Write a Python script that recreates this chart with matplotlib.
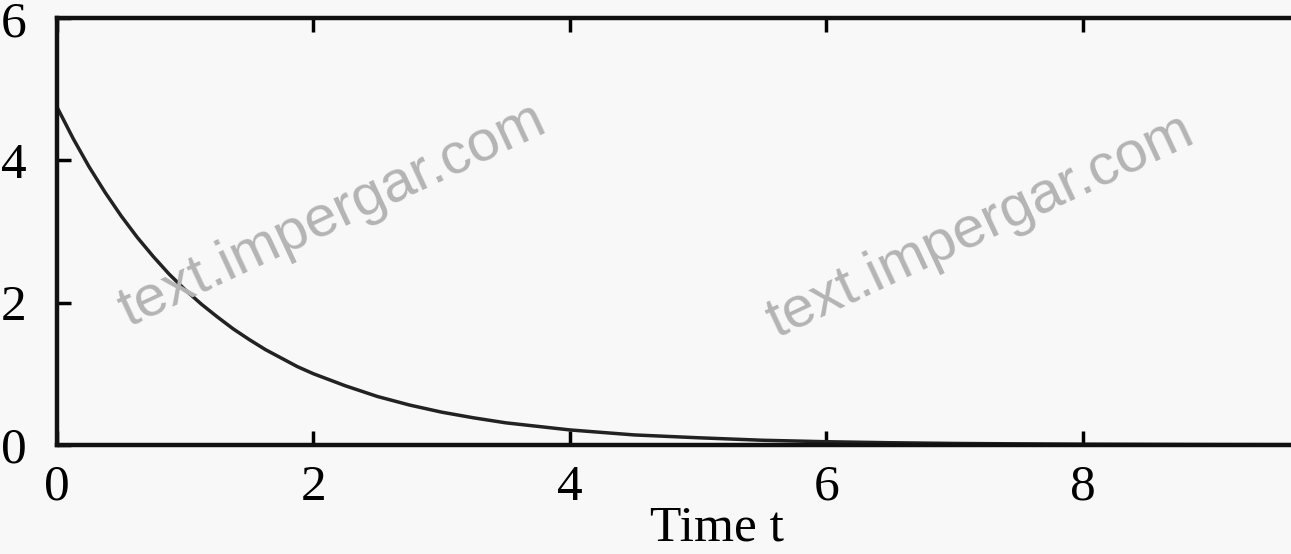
import numpy as np
import matplotlib
matplotlib.use("Agg")
import matplotlib.pyplot as plt

plt.rcParams["font.family"] = ["Liberation Serif", "DejaVu Serif"]

# values
t = [0, 0.125, 0.25, 0.375, 0.5, 0.625, 0.75, 0.875, 1.0, 1.125, 1.25, 1.375,
     1.5, 1.625, 1.75, 1.875, 2.0, 2.25, 2.5, 2.75, 3.0, 3.25, 3.5, 3.75, 4.0,
     4.5, 5.0, 5.5, 6.0, 6.5, 7.0, 7.5, 8.0, 9.0, 10.0]
y = [4.75, 4.31, 3.91, 3.55, 3.22, 2.92, 2.65, 2.40, 2.18, 1.98, 1.80, 1.63,
     1.48, 1.34, 1.22, 1.10, 1.00, 0.83, 0.68, 0.56, 0.46, 0.38, 0.31, 0.26, 0.21,
     0.14, 0.10, 0.065, 0.044, 0.03, 0.02, 0.014, 0.009, 0.004, 0.002]
xticks = [0, 2, 4, 6, 8]
yticks = [0, 2, 4, 6]
watermark = "text.impergar.com"

bg = "#f8f8f8"
fig = plt.figure(figsize=(12.91, 5.54), dpi=100, facecolor=bg)
ax = fig.add_axes([0.0442, 0.197, 0.993, 0.770], facecolor=bg)

ax.plot(t, y, color="#222222", lw=2.5)

ax.set_xlim(0, 10)
ax.set_ylim(0, 6)
ax.set_xticks(xticks)
ax.set_yticks(yticks)
ax.tick_params(axis="x", direction="in", length=10, width=2.5, top=True,
               labelsize=37, pad=14)
ax.tick_params(axis="y", direction="in", length=10, width=2.5,
               labelsize=37, pad=22)
for s in ax.spines.values():
    s.set_linewidth(3.2)
    s.set_color("#111111")
ax.spines["right"].set_visible(False)

ax.set_xlabel("Time t", fontsize=37)
ax.xaxis.set_label_coords(0.515, -0.142)

# watermarks
for xp, yp in [(332, 215), (980, 226)]:
    fig.text(xp / 1291, 1 - yp / 554, watermark, family=["Liberation Sans", "DejaVu Sans"],
             fontsize=42, color="#b4b4b4", rotation=25, ha="center", va="center")

fig.savefig("out.png", dpi=100, facecolor=bg)
